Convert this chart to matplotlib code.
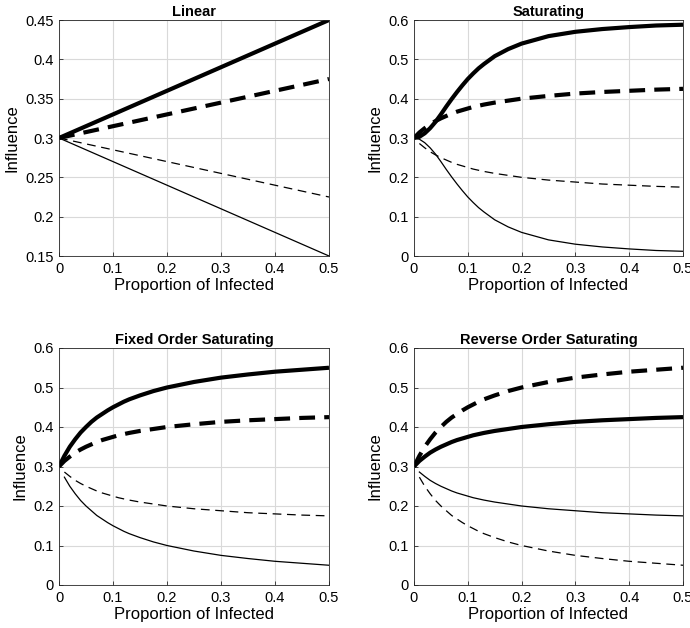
import numpy as np
import matplotlib
matplotlib.use("Agg")
import matplotlib.pyplot as plt

plt.rcParams["font.family"] = ["Liberation Sans", "DejaVu Sans"]

# x grid
x = [0.0, 0.01, 0.02, 0.03, 0.04, 0.05, 0.06, 0.07, 0.08, 0.09, 0.10, 0.11,
     0.12, 0.13, 0.15, 0.175, 0.20, 0.25, 0.30, 0.35, 0.40, 0.45, 0.50]
nan = float("nan")

# Linear panel
lin_x = [0.0, 0.5]
lin_thick_solid = [0.30, 0.45]
lin_thick_dash = [0.30, 0.375]
lin_thin_dash = [0.30, 0.225]
lin_thin_solid = [0.30, 0.15]

# curves shared by the saturating panels
big_up = [0.300, 0.327, 0.350, 0.369, 0.386, 0.400, 0.413, 0.424, 0.433, 0.442,
          0.450, 0.457, 0.464, 0.470, 0.480, 0.491, 0.500, 0.514, 0.525, 0.533,
          0.540, 0.545, 0.550]
small_up = [0.300, 0.314, 0.325, 0.335, 0.343, 0.350, 0.356, 0.362, 0.367, 0.371,
            0.375, 0.379, 0.382, 0.385, 0.390, 0.395, 0.400, 0.407, 0.413, 0.417,
            0.420, 0.423, 0.425]
small_down = [nan, 0.286, 0.275, 0.265, 0.257, 0.250, 0.244, 0.238, 0.233, 0.229,
              0.225, 0.221, 0.218, 0.215, 0.210, 0.205, 0.200, 0.193, 0.188, 0.183,
              0.180, 0.177, 0.175]
big_down = [nan, 0.273, 0.250, 0.231, 0.214, 0.200, 0.188, 0.176, 0.167, 0.158,
            0.150, 0.143, 0.136, 0.130, 0.120, 0.109, 0.100, 0.086, 0.075, 0.067,
            0.060, 0.055, 0.050]

# Saturating panel (sigmoid shaped)
sat_up = [0.300, 0.303, 0.312, 0.325, 0.341, 0.360, 0.380, 0.399, 0.417, 0.434,
          0.450, 0.464, 0.477, 0.488, 0.508, 0.526, 0.540, 0.559, 0.570, 0.577,
          0.582, 0.586, 0.588]
sat_down = [0.300, 0.297, 0.288, 0.275, 0.259, 0.240, 0.220, 0.201, 0.183, 0.166,
            0.150, 0.136, 0.123, 0.112, 0.092, 0.074, 0.060, 0.041, 0.030, 0.023,
            0.018, 0.014, 0.012]

titles = ["Linear", "Saturating", "Fixed Order Saturating", "Reverse Order Saturating"]

# (thick solid, thick dashed, thin dashed, thin solid) per panel
panels = [
    (lin_x, lin_thick_solid, lin_thick_dash, lin_thin_dash, lin_thin_solid),
    (x, sat_up, small_up, small_down, sat_down),
    (x, big_up, small_up, small_down, big_down),
    (x, small_up, big_up, big_down, small_down),
]
ylims = [(0.15, 0.45), (0, 0.6), (0, 0.6), (0, 0.6)]
yticks = [[0.15, 0.2, 0.25, 0.3, 0.35, 0.4, 0.45],
          [0, 0.1, 0.2, 0.3, 0.4, 0.5, 0.6],
          [0, 0.1, 0.2, 0.3, 0.4, 0.5, 0.6],
          [0, 0.1, 0.2, 0.3, 0.4, 0.5, 0.6]]
xticks = [0, 0.1, 0.2, 0.3, 0.4, 0.5]

W, H = 690, 628
boxes = [(59, 20, 329, 256), (414, 20, 683, 256),
         (59, 348, 329, 585), (414, 348, 683, 585)]

fig = plt.figure(figsize=(W / 100, H / 100), dpi=100)

axis_col = "#262626"
for i, (l, t, r, b) in enumerate(boxes):
    ax = fig.add_axes([l / W, 1 - b / H, (r - l) / W, (b - t) / H])
    px, ts, td, nd, ns = panels[i]
    ax.plot(px, ts, color="black", lw=3.0, solid_capstyle="butt")
    ax.plot(px, td, color="black", lw=3.0, dashes=(3.8, 2.2))
    ax.plot(px, nd, color="black", lw=0.9, dashes=(7.0, 4.5))
    ax.plot(px, ns, color="black", lw=0.9)

    ax.set_xlim(0, 0.5)
    ax.set_ylim(*ylims[i])
    ax.set_xticks(xticks)
    ax.set_xticklabels([f"{v:g}" for v in xticks])
    ax.set_yticks(yticks[i])
    ax.set_yticklabels([f"{v:g}" for v in yticks[i]])
    ax.grid(True, color="#d9d9d9", lw=0.8)
    ax.set_axisbelow(True)
    ax.tick_params(direction="in", length=3, width=0.6, colors=axis_col,
                   labelsize=10.5, labelcolor="black", pad=4)
    for s in ax.spines.values():
        s.set_color(axis_col)
        s.set_linewidth(0.6)
    ax.set_title(titles[i], fontsize=10.5, fontweight="bold", pad=3)
    ax.set_xlabel("Proportion of Infected", fontsize=12, labelpad=2)
    ax.set_ylabel("Influence", fontsize=12, labelpad=4)

fig.savefig("out.png", dpi=100)
